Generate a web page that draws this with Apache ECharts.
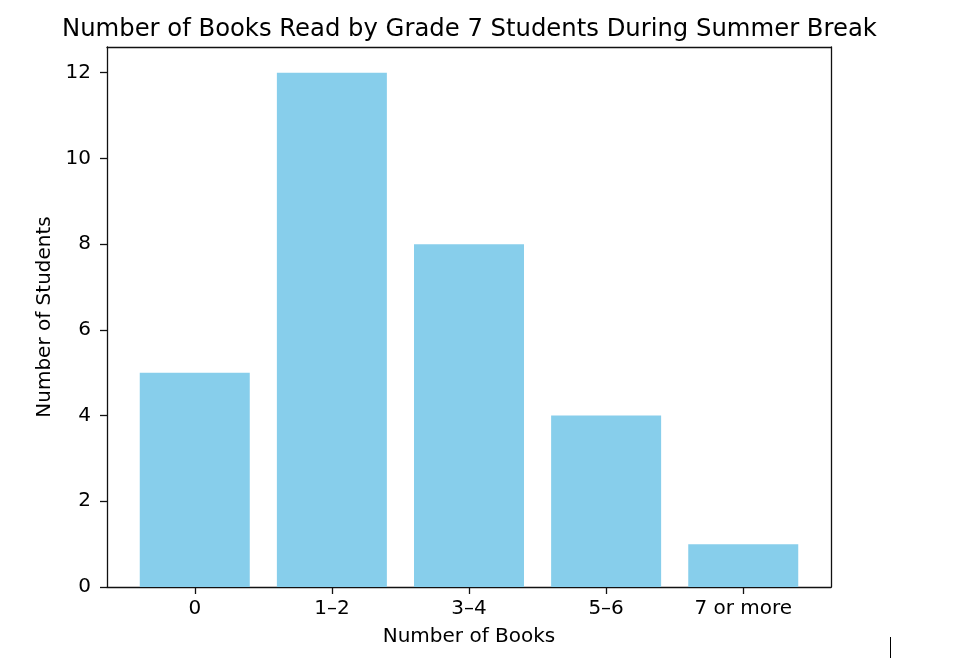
<!DOCTYPE html>
<html>
<head>
<meta charset="utf-8">
<script src="https://cdn.jsdelivr.net/npm/echarts@6/dist/echarts.min.js"></script>
<style>html,body{margin:0;padding:0;background:#fff}#chart{width:955px;height:658px}</style>
</head>
<body>
<div id="chart"></div>
<script>
const categories = ['0', '1\u20132', '3\u20134', '5\u20136', '7 or more'];
const students = [5, 12, 8, 4, 1];
const yTicks = [0, 2, 4, 6, 8, 10, 12];

const chart = echarts.init(document.getElementById('chart'));
const font = 'DejaVu Sans';
const positions = categories.map((c, i) => i);
const lineStyle = { color: '#111', width: 1.3 };
chart.setOption({
  animation: false,
  title: {
    text: 'Number of Books Read by Grade 7 Students During Summer Break',
    left: 57, top: 13,
    textStyle: { fontFamily: font, fontSize: 24.3, fontWeight: 'normal', color: '#000' }
  },
  grid: { left: 107, right: 124, top: 47, bottom: 71, show: false },
  xAxis: [{
    type: 'value', min: -0.64, max: 4.64,
    name: 'Number of Books', nameLocation: 'middle', nameGap: 40,
    nameTextStyle: { fontFamily: font, fontSize: 20, color: '#000' },
    axisLine: { show: true, onZero: false, lineStyle },
    axisTick: { show: true, length: 7, lineStyle, customValues: positions },
    axisLabel: { show: true, customValues: positions, margin: 12, fontFamily: font, fontSize: 20, color: '#000',
      formatter: v => categories[Math.round(v)] },
    splitLine: { show: false }
  }, {
    type: 'value', min: -0.64, max: 4.64, position: 'top',
    axisLine: { show: true, onZero: false, lineStyle },
    axisTick: { show: false }, axisLabel: { show: false }, splitLine: { show: false }
  }],
  yAxis: [{
    type: 'value', min: 0, max: 12.6,
    name: 'Number of Students', nameLocation: 'middle', nameGap: 52,
    nameTextStyle: { fontFamily: font, fontSize: 20, color: '#000' },
    axisLine: { show: true, onZero: false, lineStyle },
    axisTick: { show: true, length: 7, lineStyle, customValues: yTicks },
    axisLabel: { customValues: yTicks, margin: 16, fontFamily: font, fontSize: 20, color: '#000' },
    splitLine: { show: false }
  }, {
    type: 'value', min: 0, max: 12.6, position: 'right',
    axisLine: { show: true, onZero: false, lineStyle },
    axisTick: { show: false }, axisLabel: { show: false }, splitLine: { show: false }
  }],
  series: [{
    type: 'bar', xAxisIndex: 0, yAxisIndex: 0,
    data: students.map((v, i) => [positions[i], v]),
    barWidth: 110,
    itemStyle: { color: '#87CEEB' }
  }],
  graphic: [{
    type: 'line', shape: { x1: 890.5, y1: 637, x2: 890.5, y2: 658 },
    style: { stroke: '#000', lineWidth: 1 }
  }]
});
</script>
</body>
</html>
